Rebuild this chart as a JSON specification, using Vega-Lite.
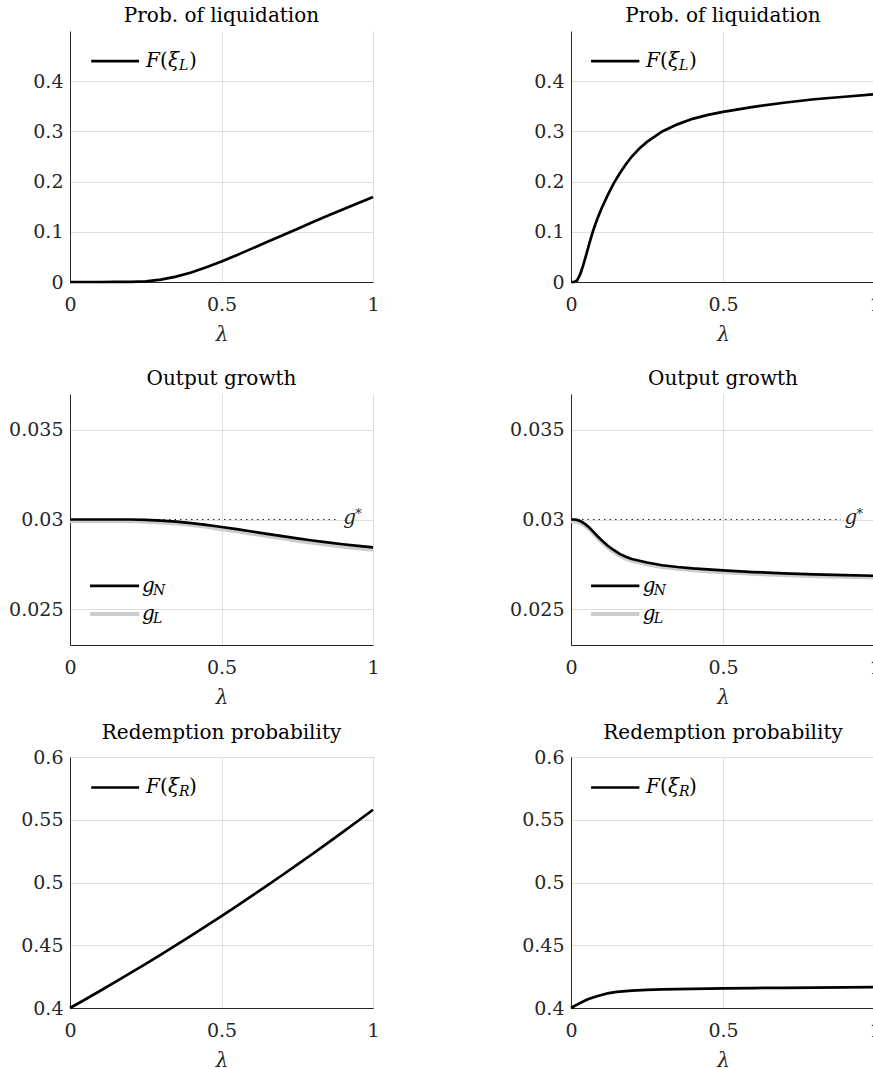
{
  "$schema": "https://vega.github.io/schema/vega-lite/v6.json",
  "padding": {"left": 8, "top": 6, "right": 0, "bottom": 0},
  "autosize": {"type": "pad"},
  "background": "white",
  "config": {
    "font": "DejaVu Serif",
    "view": {"stroke": null},
    "text": {"font": "DejaVu Serif"},
    "axis": {
      "labelFont": "DejaVu Serif", "labelFontSize": 19, "labelColor": "#262626",
      "domainColor": "#262626", "domainWidth": 1,
      "gridColor": "#dfdfdf", "gridWidth": 1,
      "ticks": false, "tickSize": 0,
      "titleFont": "DejaVu Serif", "titleFontSize": 20, "titleFontWeight": "normal",
      "titleFontStyle": "italic", "titleColor": "#262626",
      "labelOverlap": false, "labelFlush": false
    },
    "axisX": {"labelPadding": 13, "titlePadding": 10},
    "axisY": {"labelPadding": 7},
    "title": {"font": "DejaVu Serif", "fontSize": 20, "fontWeight": "normal", "color": "#000000", "offset": 5}
  },
  "datasets": {
    "p1": [
      {"lam": 0, "v": 0}, {"lam": 0.05, "v": 0}, {"lam": 0.1, "v": 0}, {"lam": 0.15, "v": 0.0001},
      {"lam": 0.2, "v": 0.0003}, {"lam": 0.25, "v": 0.0014}, {"lam": 0.3, "v": 0.0048}, {"lam": 0.35, "v": 0.0108},
      {"lam": 0.4, "v": 0.019}, {"lam": 0.45, "v": 0.0292}, {"lam": 0.5, "v": 0.041}, {"lam": 0.55, "v": 0.0535},
      {"lam": 0.6, "v": 0.0665}, {"lam": 0.65, "v": 0.0795}, {"lam": 0.7, "v": 0.0925}, {"lam": 0.75, "v": 0.1057},
      {"lam": 0.8, "v": 0.119}, {"lam": 0.85, "v": 0.1318}, {"lam": 0.9, "v": 0.1445}, {"lam": 0.95, "v": 0.157},
      {"lam": 1, "v": 0.1695}
    ],
    "p2": [
      {"lam": 0, "v": 0}, {"lam": 0.01, "v": 0.0002}, {"lam": 0.02, "v": 0.003}, {"lam": 0.03, "v": 0.015},
      {"lam": 0.04, "v": 0.033}, {"lam": 0.05, "v": 0.054}, {"lam": 0.06, "v": 0.076}, {"lam": 0.07, "v": 0.097},
      {"lam": 0.08, "v": 0.115}, {"lam": 0.09, "v": 0.131}, {"lam": 0.1, "v": 0.146}, {"lam": 0.12, "v": 0.172},
      {"lam": 0.14, "v": 0.196}, {"lam": 0.16, "v": 0.216}, {"lam": 0.18, "v": 0.234}, {"lam": 0.2, "v": 0.25},
      {"lam": 0.225, "v": 0.266}, {"lam": 0.25, "v": 0.279}, {"lam": 0.3, "v": 0.3}, {"lam": 0.35, "v": 0.314},
      {"lam": 0.4, "v": 0.325}, {"lam": 0.45, "v": 0.333}, {"lam": 0.5, "v": 0.339}, {"lam": 0.6, "v": 0.349},
      {"lam": 0.7, "v": 0.357}, {"lam": 0.8, "v": 0.364}, {"lam": 0.9, "v": 0.369}, {"lam": 1, "v": 0.374}
    ],
    "p3": [
      {"s": "N", "lam": 0, "v": 0.03}, {"s": "N", "lam": 0.1, "v": 0.03}, {"s": "N", "lam": 0.2, "v": 0.03},
      {"s": "N", "lam": 0.25, "v": 0.02998}, {"s": "N", "lam": 0.3, "v": 0.02994}, {"s": "N", "lam": 0.35, "v": 0.02988},
      {"s": "N", "lam": 0.4, "v": 0.0298}, {"s": "N", "lam": 0.45, "v": 0.0297}, {"s": "N", "lam": 0.5, "v": 0.02958},
      {"s": "N", "lam": 0.55, "v": 0.02946}, {"s": "N", "lam": 0.6, "v": 0.02933}, {"s": "N", "lam": 0.65, "v": 0.0292},
      {"s": "N", "lam": 0.7, "v": 0.02907}, {"s": "N", "lam": 0.75, "v": 0.02895}, {"s": "N", "lam": 0.8, "v": 0.02883},
      {"s": "N", "lam": 0.85, "v": 0.02872}, {"s": "N", "lam": 0.9, "v": 0.02862}, {"s": "N", "lam": 0.95, "v": 0.02853},
      {"s": "N", "lam": 1, "v": 0.02845},
      {"s": "L", "lam": 0, "v": 0.0299}, {"s": "L", "lam": 0.1, "v": 0.0299}, {"s": "L", "lam": 0.2, "v": 0.0299},
      {"s": "L", "lam": 0.25, "v": 0.02988}, {"s": "L", "lam": 0.3, "v": 0.02983}, {"s": "L", "lam": 0.35, "v": 0.02977},
      {"s": "L", "lam": 0.4, "v": 0.02969}, {"s": "L", "lam": 0.45, "v": 0.02959}, {"s": "L", "lam": 0.5, "v": 0.02946},
      {"s": "L", "lam": 0.55, "v": 0.02934}, {"s": "L", "lam": 0.6, "v": 0.02921}, {"s": "L", "lam": 0.65, "v": 0.02908},
      {"s": "L", "lam": 0.7, "v": 0.02895}, {"s": "L", "lam": 0.75, "v": 0.02882}, {"s": "L", "lam": 0.8, "v": 0.0287},
      {"s": "L", "lam": 0.85, "v": 0.02859}, {"s": "L", "lam": 0.9, "v": 0.02849}, {"s": "L", "lam": 0.95, "v": 0.0284},
      {"s": "L", "lam": 1, "v": 0.02831}
    ],
    "p4": [
      {"s": "N", "lam": 0, "v": 0.03}, {"s": "N", "lam": 0.01, "v": 0.03}, {"s": "N", "lam": 0.02, "v": 0.02998},
      {"s": "N", "lam": 0.03, "v": 0.02992}, {"s": "N", "lam": 0.04, "v": 0.02982}, {"s": "N", "lam": 0.05, "v": 0.0297},
      {"s": "N", "lam": 0.06, "v": 0.02955}, {"s": "N", "lam": 0.07, "v": 0.02938}, {"s": "N", "lam": 0.08, "v": 0.0292},
      {"s": "N", "lam": 0.09, "v": 0.02902}, {"s": "N", "lam": 0.1, "v": 0.02885}, {"s": "N", "lam": 0.12, "v": 0.02855},
      {"s": "N", "lam": 0.14, "v": 0.0283}, {"s": "N", "lam": 0.16, "v": 0.02808}, {"s": "N", "lam": 0.18, "v": 0.02792},
      {"s": "N", "lam": 0.2, "v": 0.0278}, {"s": "N", "lam": 0.25, "v": 0.0276}, {"s": "N", "lam": 0.3, "v": 0.02745},
      {"s": "N", "lam": 0.35, "v": 0.02735}, {"s": "N", "lam": 0.4, "v": 0.02727}, {"s": "N", "lam": 0.5, "v": 0.02716},
      {"s": "N", "lam": 0.6, "v": 0.02707}, {"s": "N", "lam": 0.7, "v": 0.027}, {"s": "N", "lam": 0.8, "v": 0.02694},
      {"s": "N", "lam": 0.9, "v": 0.0269}, {"s": "N", "lam": 1, "v": 0.02686},
      {"s": "L", "lam": 0, "v": 0.0299}, {"s": "L", "lam": 0.01, "v": 0.0299}, {"s": "L", "lam": 0.02, "v": 0.02988},
      {"s": "L", "lam": 0.03, "v": 0.02982}, {"s": "L", "lam": 0.04, "v": 0.02972}, {"s": "L", "lam": 0.05, "v": 0.0296},
      {"s": "L", "lam": 0.06, "v": 0.02945}, {"s": "L", "lam": 0.07, "v": 0.02928}, {"s": "L", "lam": 0.08, "v": 0.0291},
      {"s": "L", "lam": 0.09, "v": 0.02892}, {"s": "L", "lam": 0.1, "v": 0.02875}, {"s": "L", "lam": 0.12, "v": 0.02845},
      {"s": "L", "lam": 0.14, "v": 0.0282}, {"s": "L", "lam": 0.16, "v": 0.02798}, {"s": "L", "lam": 0.18, "v": 0.02782},
      {"s": "L", "lam": 0.2, "v": 0.0277}, {"s": "L", "lam": 0.25, "v": 0.0275}, {"s": "L", "lam": 0.3, "v": 0.02735},
      {"s": "L", "lam": 0.35, "v": 0.02725}, {"s": "L", "lam": 0.4, "v": 0.02717}, {"s": "L", "lam": 0.5, "v": 0.02706},
      {"s": "L", "lam": 0.6, "v": 0.02697}, {"s": "L", "lam": 0.7, "v": 0.0269}, {"s": "L", "lam": 0.8, "v": 0.02684},
      {"s": "L", "lam": 0.9, "v": 0.0268}, {"s": "L", "lam": 1, "v": 0.02676}
    ],
    "p5": [
      {"lam": 0, "v": 0.4}, {"lam": 0.05, "v": 0.40681}, {"lam": 0.1, "v": 0.41373}, {"lam": 0.15, "v": 0.42077},
      {"lam": 0.2, "v": 0.42792}, {"lam": 0.25, "v": 0.43519}, {"lam": 0.3, "v": 0.44257}, {"lam": 0.35, "v": 0.45007},
      {"lam": 0.4, "v": 0.45768}, {"lam": 0.45, "v": 0.46541}, {"lam": 0.5, "v": 0.47325}, {"lam": 0.55, "v": 0.48121},
      {"lam": 0.6, "v": 0.48928}, {"lam": 0.65, "v": 0.49747}, {"lam": 0.7, "v": 0.50577}, {"lam": 0.75, "v": 0.51419},
      {"lam": 0.8, "v": 0.52272}, {"lam": 0.85, "v": 0.53137}, {"lam": 0.9, "v": 0.54013}, {"lam": 0.95, "v": 0.54901},
      {"lam": 1, "v": 0.558}
    ],
    "p6": [
      {"lam": 0, "v": 0.4}, {"lam": 0.01, "v": 0.4014}, {"lam": 0.02, "v": 0.4027}, {"lam": 0.03, "v": 0.404},
      {"lam": 0.04, "v": 0.4052}, {"lam": 0.05, "v": 0.4063}, {"lam": 0.06, "v": 0.4073}, {"lam": 0.08, "v": 0.409},
      {"lam": 0.1, "v": 0.4104}, {"lam": 0.12, "v": 0.4116}, {"lam": 0.15, "v": 0.4128}, {"lam": 0.2, "v": 0.4139},
      {"lam": 0.25, "v": 0.4145}, {"lam": 0.3, "v": 0.4149}, {"lam": 0.4, "v": 0.4153}, {"lam": 0.5, "v": 0.4156},
      {"lam": 0.6, "v": 0.4159}, {"lam": 0.7, "v": 0.4161}, {"lam": 0.8, "v": 0.4163}, {"lam": 0.9, "v": 0.4165},
      {"lam": 1, "v": 0.4167}
    ]
  },
  "columns": 2,
  "bounds": "flush",
  "spacing": {"row": 112, "column": 198},
  "concat": [
    {
      "title": "Prob. of liquidation",
      "width": 303, "height": 251,
      "encoding": {
        "x": {"field": "lam", "type": "quantitative", "scale": {"domain": [0, 1]}, "axis": {"values": [0, 0.5, 1], "format": "~g", "title": "λ"}},
        "y": {"field": "v", "type": "quantitative", "scale": {"domain": [0, 0.5]}, "axis": {"values": [0, 0.1, 0.2, 0.3, 0.4], "format": "~g", "title": null}}
      },
      "layer": [
        {"data": {"name": "p1"}, "mark": {"type": "line", "color": "#000000", "strokeWidth": 2.7}},
        {"data": {"values": [{"lam": 0.07, "lam2": 0.228, "v": 0.44}]}, "mark": {"type": "rule", "color": "#000000", "strokeWidth": 2.7}, "encoding": {"x2": {"field": "lam2"}}},
        {"data": {"values": [{"lam": 0.251, "v": 0.44}]},
         "layer": [
           {"mark": {"type": "text", "text": "F", "fontStyle": "italic", "fontSize": 20, "align": "left", "baseline": "middle"}},
           {"mark": {"type": "text", "text": "(", "fontSize": 20, "align": "left", "baseline": "middle", "dx": 14}},
           {"mark": {"type": "text", "text": "ξ", "fontStyle": "italic", "fontSize": 20, "align": "left", "baseline": "middle", "dx": 22}},
           {"mark": {"type": "text", "text": "L", "fontStyle": "italic", "fontSize": 14, "align": "left", "baseline": "middle", "dx": 33, "dy": 5}},
           {"mark": {"type": "text", "text": ")", "fontSize": 20, "align": "left", "baseline": "middle", "dx": 43}}
         ]}
      ]
    },
    {
      "title": "Prob. of liquidation",
      "width": 304, "height": 251,
      "encoding": {
        "x": {"field": "lam", "type": "quantitative", "scale": {"domain": [0, 1]}, "axis": {"values": [0, 0.5, 1], "format": "~g", "title": "λ"}},
        "y": {"field": "v", "type": "quantitative", "scale": {"domain": [0, 0.5]}, "axis": {"values": [0, 0.1, 0.2, 0.3, 0.4], "format": "~g", "title": null}}
      },
      "layer": [
        {"data": {"name": "p2"}, "mark": {"type": "line", "color": "#000000", "strokeWidth": 2.7}},
        {"data": {"values": [{"lam": 0.066, "lam2": 0.225, "v": 0.44}]}, "mark": {"type": "rule", "color": "#000000", "strokeWidth": 2.7}, "encoding": {"x2": {"field": "lam2"}}},
        {"data": {"values": [{"lam": 0.247, "v": 0.44}]},
         "layer": [
           {"mark": {"type": "text", "text": "F", "fontStyle": "italic", "fontSize": 20, "align": "left", "baseline": "middle"}},
           {"mark": {"type": "text", "text": "(", "fontSize": 20, "align": "left", "baseline": "middle", "dx": 14}},
           {"mark": {"type": "text", "text": "ξ", "fontStyle": "italic", "fontSize": 20, "align": "left", "baseline": "middle", "dx": 22}},
           {"mark": {"type": "text", "text": "L", "fontStyle": "italic", "fontSize": 14, "align": "left", "baseline": "middle", "dx": 33, "dy": 5}},
           {"mark": {"type": "text", "text": ")", "fontSize": 20, "align": "left", "baseline": "middle", "dx": 43}}
         ]}
      ]
    },
    {
      "title": "Output growth",
      "width": 303, "height": 251,
      "encoding": {
        "x": {"field": "lam", "type": "quantitative", "scale": {"domain": [0, 1]}, "axis": {"values": [0, 0.5, 1], "format": "~g", "title": "λ"}},
        "y": {"field": "v", "type": "quantitative", "scale": {"domain": [0.023, 0.037]}, "axis": {"values": [0.025, 0.03, 0.035], "format": "~g", "title": null}}
      },
      "layer": [
        {"data": {"values": [{"lam": 0, "lam2": 0.885, "v": 0.03}]}, "mark": {"type": "rule", "color": "#262626", "strokeWidth": 1, "strokeDash": [1.5, 4]}, "encoding": {"x2": {"field": "lam2"}}},
        {"data": {"name": "p3"}, "transform": [{"filter": "datum.s === 'L'"}], "mark": {"type": "line", "color": "#cccccc", "strokeWidth": 4}},
        {"data": {"name": "p3"}, "transform": [{"filter": "datum.s === 'N'"}], "mark": {"type": "line", "color": "#000000", "strokeWidth": 2.7}},
        {"data": {"values": [{"lam": 0.902, "v": 0.03}]},
         "layer": [
           {"mark": {"type": "text", "text": "g", "fontStyle": "italic", "fontSize": 20, "align": "left", "baseline": "alphabetic", "dy": 4, "color": "#262626"}},
           {"mark": {"type": "text", "text": "*", "fontSize": 13, "align": "left", "baseline": "alphabetic", "dx": 12, "dy": -2, "color": "#262626"}}
         ]},
        {"data": {"values": [{"lam": 0.066, "lam2": 0.228, "v": 0.0263}]}, "mark": {"type": "rule", "color": "#000000", "strokeWidth": 2.7}, "encoding": {"x2": {"field": "lam2"}}},
        {"data": {"values": [{"lam": 0.066, "lam2": 0.228, "v": 0.02473}]}, "mark": {"type": "rule", "color": "#cccccc", "strokeWidth": 4}, "encoding": {"x2": {"field": "lam2"}}},
        {"data": {"values": [{"lam": 0.238, "v": 0.0263}]},
         "layer": [
           {"mark": {"type": "text", "text": "g", "fontStyle": "italic", "fontSize": 20, "align": "left", "baseline": "middle"}},
           {"mark": {"type": "text", "text": "N", "fontStyle": "italic", "fontSize": 14, "align": "left", "baseline": "middle", "dx": 11, "dy": 5}}
         ]},
        {"data": {"values": [{"lam": 0.238, "v": 0.02473}]},
         "layer": [
           {"mark": {"type": "text", "text": "g", "fontStyle": "italic", "fontSize": 20, "align": "left", "baseline": "middle"}},
           {"mark": {"type": "text", "text": "L", "fontStyle": "italic", "fontSize": 14, "align": "left", "baseline": "middle", "dx": 11, "dy": 5}}
         ]}
      ]
    },
    {
      "title": "Output growth",
      "width": 304, "height": 251,
      "encoding": {
        "x": {"field": "lam", "type": "quantitative", "scale": {"domain": [0, 1]}, "axis": {"values": [0, 0.5, 1], "format": "~g", "title": "λ"}},
        "y": {"field": "v", "type": "quantitative", "scale": {"domain": [0.023, 0.037]}, "axis": {"values": [0.025, 0.03, 0.035], "format": "~g", "title": null}}
      },
      "layer": [
        {"data": {"values": [{"lam": 0, "lam2": 0.888, "v": 0.03}]}, "mark": {"type": "rule", "color": "#262626", "strokeWidth": 1, "strokeDash": [1.5, 4]}, "encoding": {"x2": {"field": "lam2"}}},
        {"data": {"name": "p4"}, "transform": [{"filter": "datum.s === 'L'"}], "mark": {"type": "line", "color": "#cccccc", "strokeWidth": 4}},
        {"data": {"name": "p4"}, "transform": [{"filter": "datum.s === 'N'"}], "mark": {"type": "line", "color": "#000000", "strokeWidth": 2.7}},
        {"data": {"values": [{"lam": 0.9, "v": 0.03}]},
         "layer": [
           {"mark": {"type": "text", "text": "g", "fontStyle": "italic", "fontSize": 20, "align": "left", "baseline": "alphabetic", "dy": 4, "color": "#262626"}},
           {"mark": {"type": "text", "text": "*", "fontSize": 13, "align": "left", "baseline": "alphabetic", "dx": 12, "dy": -2, "color": "#262626"}}
         ]},
        {"data": {"values": [{"lam": 0.066, "lam2": 0.225, "v": 0.0263}]}, "mark": {"type": "rule", "color": "#000000", "strokeWidth": 2.7}, "encoding": {"x2": {"field": "lam2"}}},
        {"data": {"values": [{"lam": 0.066, "lam2": 0.225, "v": 0.02473}]}, "mark": {"type": "rule", "color": "#cccccc", "strokeWidth": 4}, "encoding": {"x2": {"field": "lam2"}}},
        {"data": {"values": [{"lam": 0.236, "v": 0.0263}]},
         "layer": [
           {"mark": {"type": "text", "text": "g", "fontStyle": "italic", "fontSize": 20, "align": "left", "baseline": "middle"}},
           {"mark": {"type": "text", "text": "N", "fontStyle": "italic", "fontSize": 14, "align": "left", "baseline": "middle", "dx": 11, "dy": 5}}
         ]},
        {"data": {"values": [{"lam": 0.236, "v": 0.02473}]},
         "layer": [
           {"mark": {"type": "text", "text": "g", "fontStyle": "italic", "fontSize": 20, "align": "left", "baseline": "middle"}},
           {"mark": {"type": "text", "text": "L", "fontStyle": "italic", "fontSize": 14, "align": "left", "baseline": "middle", "dx": 11, "dy": 5}}
         ]}
      ]
    },
    {
      "title": "Redemption probability",
      "width": 303, "height": 251,
      "view": {"stroke": "#262626", "strokeWidth": 1},
      "encoding": {
        "x": {"field": "lam", "type": "quantitative", "scale": {"domain": [0, 1]}, "axis": {"values": [0, 0.5, 1], "format": "~g", "title": "λ"}},
        "y": {"field": "v", "type": "quantitative", "scale": {"domain": [0.4, 0.6]}, "axis": {"values": [0.4, 0.45, 0.5, 0.55, 0.6], "format": "~g", "title": null}}
      },
      "layer": [
        {"data": {"name": "p5"}, "mark": {"type": "line", "color": "#000000", "strokeWidth": 2.7}},
        {"data": {"values": [{"lam": 0.07, "lam2": 0.228, "v": 0.5757}]}, "mark": {"type": "rule", "color": "#000000", "strokeWidth": 2.7}, "encoding": {"x2": {"field": "lam2"}}},
        {"data": {"values": [{"lam": 0.251, "v": 0.5757}]},
         "layer": [
           {"mark": {"type": "text", "text": "F", "fontStyle": "italic", "fontSize": 20, "align": "left", "baseline": "middle"}},
           {"mark": {"type": "text", "text": "(", "fontSize": 20, "align": "left", "baseline": "middle", "dx": 14}},
           {"mark": {"type": "text", "text": "ξ", "fontStyle": "italic", "fontSize": 20, "align": "left", "baseline": "middle", "dx": 22}},
           {"mark": {"type": "text", "text": "R", "fontStyle": "italic", "fontSize": 14, "align": "left", "baseline": "middle", "dx": 33, "dy": 5}},
           {"mark": {"type": "text", "text": ")", "fontSize": 20, "align": "left", "baseline": "middle", "dx": 43}}
         ]}
      ]
    },
    {
      "title": "Redemption probability",
      "width": 304, "height": 251,
      "view": {"stroke": "#262626", "strokeWidth": 1},
      "encoding": {
        "x": {"field": "lam", "type": "quantitative", "scale": {"domain": [0, 1]}, "axis": {"values": [0, 0.5, 1], "format": "~g", "title": "λ"}},
        "y": {"field": "v", "type": "quantitative", "scale": {"domain": [0.4, 0.6]}, "axis": {"values": [0.4, 0.45, 0.5, 0.55, 0.6], "format": "~g", "title": null}}
      },
      "layer": [
        {"data": {"name": "p6"}, "mark": {"type": "line", "color": "#000000", "strokeWidth": 2.7}},
        {"data": {"values": [{"lam": 0.066, "lam2": 0.225, "v": 0.5757}]}, "mark": {"type": "rule", "color": "#000000", "strokeWidth": 2.7}, "encoding": {"x2": {"field": "lam2"}}},
        {"data": {"values": [{"lam": 0.247, "v": 0.5757}]},
         "layer": [
           {"mark": {"type": "text", "text": "F", "fontStyle": "italic", "fontSize": 20, "align": "left", "baseline": "middle"}},
           {"mark": {"type": "text", "text": "(", "fontSize": 20, "align": "left", "baseline": "middle", "dx": 14}},
           {"mark": {"type": "text", "text": "ξ", "fontStyle": "italic", "fontSize": 20, "align": "left", "baseline": "middle", "dx": 22}},
           {"mark": {"type": "text", "text": "R", "fontStyle": "italic", "fontSize": 14, "align": "left", "baseline": "middle", "dx": 33, "dy": 5}},
           {"mark": {"type": "text", "text": ")", "fontSize": 20, "align": "left", "baseline": "middle", "dx": 43}}
         ]}
      ]
    }
  ]
}
